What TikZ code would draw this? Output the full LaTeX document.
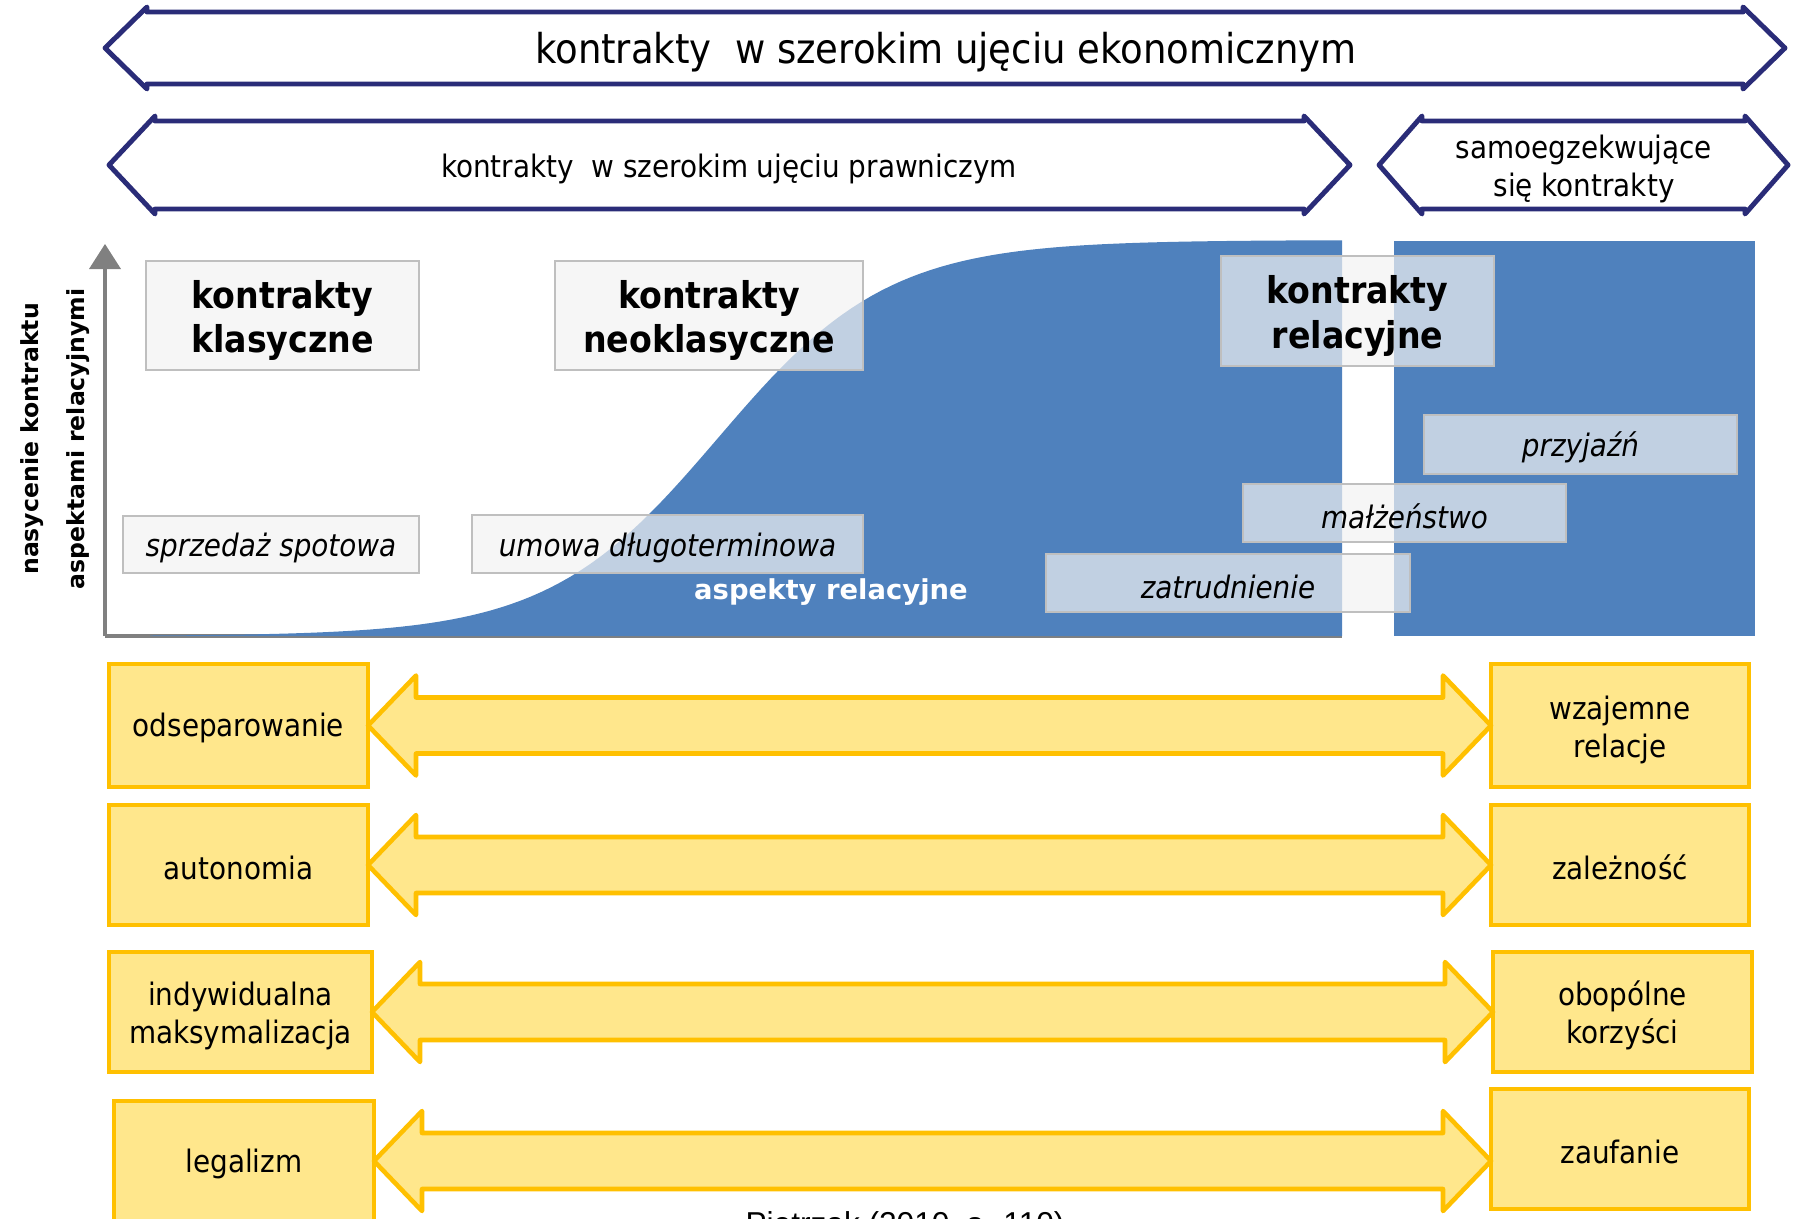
\documentclass[tikz,border=0pt]{standalone}
\usepackage{fontspec}
\setmainfont{DejaVu Sans Condensed}[BoldFont={DejaVu Sans Condensed Bold},ItalicFont={DejaVu Sans Condensed Oblique}]
\newfontfamily\verdanaish{DejaVu Sans}
\newfontfamily\arialish{Liberation Sans}
\usetikzlibrary{calc}

\definecolor{navy}{RGB}{42,44,120}
\definecolor{relblue}{RGB}{79,129,189}
\definecolor{boxfill}{RGB}{242,242,242}
\definecolor{boxline}{RGB}{191,191,191}
\definecolor{ylfill}{RGB}{255,231,140}
\definecolor{ylline}{RGB}{255,192,0}
\definecolor{axisgray}{RGB}{128,128,128}

\newcommand\topstrut{\rule{0pt}{1.02em}}

\tikzset{
  band/.style={draw=navy, line width=1.4pt, line join=round},
  bandtext/.style={font=\fontsize{8.8}{10.8}\selectfont, align=center},
  lower/.style={execute at begin node={\rule{0pt}{#1}}},
  greybox/.style 2 args={draw=boxline, fill=boxfill, fill opacity=.7, text opacity=1, line width=.7pt,
    inner sep=0pt, minimum width=#1*0.01cm, minimum height=#2*0.01cm, align=center, lower=1em},
  bigtext/.style={font=\bfseries\fontsize{10.5}{12.7}\selectfont},
  smalltext/.style={font=\itshape\fontsize{8.8}{10.8}\selectfont},
  ylbox/.style 2 args={draw=ylline, fill=ylfill, line width=1.3pt, inner sep=0pt, outer sep=0pt,
    minimum width=#1*0.01cm, minimum height=#2*0.01cm, align=center, lower=.95em,
    font=\fontsize{8.8}{10.8}\selectfont},
  fat/.style={draw=ylline, fill=ylfill, line width=1.3pt, line join=round}
}

% l, r, y, half height, head length
\newcommand\navyband[5]{%
  \draw[band] (#1,#3) -- ({#1+#5},{#3-#4-5}) -- ({#1+#5},{#3-#4}) -- ({#2-#5},{#3-#4})
    -- ({#2-#5},{#3-#4-5}) -- (#2,#3) -- ({#2-#5},{#3+#4+5}) -- ({#2-#5},{#3+#4})
    -- ({#1+#5},{#3+#4}) -- ({#1+#5},{#3+#4+5}) -- cycle;}

\newcommand\fatarrow[2]{%
  \draw[fat] (#1.east) -- ++(48,-50) -- ++(0,22) -- ($(#2.west |- #1.east)+(-48,-28)$)
    -- ++(0,-22) -- (#2.west |- #1.east) -- ++(-48,50) -- ++(0,-22)
    -- ($(#1.east)+(48,28)$) -- ++(0,22) -- cycle;}

\begin{document}
\begin{tikzpicture}[x=0.01cm, y=-0.01cm]
\useasboundingbox (0,0) rectangle (1798,1218);
\clip (0,0) rectangle (1798,1218);

% pasma
\navyband{105}{1785}{48}{36}{42}
\node[font=\fontsize{11.7}{14}\selectfont] (eko) at (946,52) {kontrakty~ w szerokim ujęciu ekonomicznym};
\navyband{109}{1350}{165}{44}{46}
\node[bandtext] (praw) at (729,169) {kontrakty~ w szerokim ujęciu prawniczym};
\navyband{1379}{1788}{165}{44}{43}
\node[bandtext] (samo) at (1584,169) {samoegzekwujące\\się kontrakty};

% wykres
\draw[axisgray, line width=.9pt] (105,636) -- (105,266);
\fill[axisgray] (105,244) -- (89,269) -- (121,269) -- cycle;
\draw[axisgray, line width=.9pt] (105,636) -- (1342,636);
\fill[relblue] (150,636) -- plot[domain=150:1342, samples=120] (\x,{636-396/(1+exp(-(\x-718)/85))})
  -- (1342,636) -- cycle;
\fill[relblue] (1394,241) rectangle (1755,636);

\node[rotate=90, align=center, font=\verdanaish\bfseries\fontsize{6.7}{13}\selectfont] (os) at (55,439)
  {nasycenie kontraktu\\aspektami relacyjnymi};

\node[greybox={273}{109}, bigtext] (klas) at (282.5,315.5) {\topstrut kontrakty\\klasyczne};
\node[greybox={308}{109}, bigtext] (neo) at (709,315.5) {\topstrut kontrakty\\neoklasyczne};
\node[greybox={273}{110}, bigtext] (rel) at (1357.5,311) {\topstrut kontrakty\\relacyjne};
\node[greybox={296}{57}, smalltext] (spot) at (271,544.5) {sprzedaż spotowa};
\node[greybox={391}{58}, smalltext] (umowa) at (667.5,544) {umowa długoterminowa};
\node[greybox={313}{59}, smalltext] (przyj) at (1580.5,444.5) {przyjaźń};
\node[greybox={323}{58}, smalltext] (malz) at (1404.5,513) {małżeństwo};
\node[greybox={364}{58}, smalltext] (zatr) at (1228,583) {zatrudnienie};
\node[text=white, font=\verdanaish\bfseries\fontsize{7.8}{9}\selectfont] (asp) at (831,592) {aspekty relacyjne};

% cechy
\node[ylbox={259}{123}] (odsep) at (238.5,725.5) {odseparowanie};
\node[ylbox={258}{123}] (wzaj) at (1620,725.5) {\topstrut wzajemne\\relacje};
\node[ylbox={259}{120}] (auto) at (238.5,865) {autonomia};
\node[ylbox={258}{120}] (zalez) at (1620,865) {zależność};
\node[ylbox={263}{120}] (indyw) at (240.5,1012) {\topstrut indywidualna\\maksymalizacja};
\node[ylbox={259}{120}] (obop) at (1622.5,1012) {\topstrut obopólne\\korzyści};
\node[ylbox={260}{120}] (legal) at (244,1161) {legalizm};
\node[ylbox={258}{120}] (zauf) at (1620,1149) {zaufanie};

\fatarrow{odsep}{wzaj}
\fatarrow{auto}{zalez}
\fatarrow{indyw}{obop}
\fatarrow{legal}{zauf}

\node[font=\arialish\fontsize{9}{11}\selectfont, anchor=north, inner sep=0pt] (zrodlo) at (905,1211)
  {Pietrzak (2010, s. 110)};
\end{tikzpicture}
\end{document}
